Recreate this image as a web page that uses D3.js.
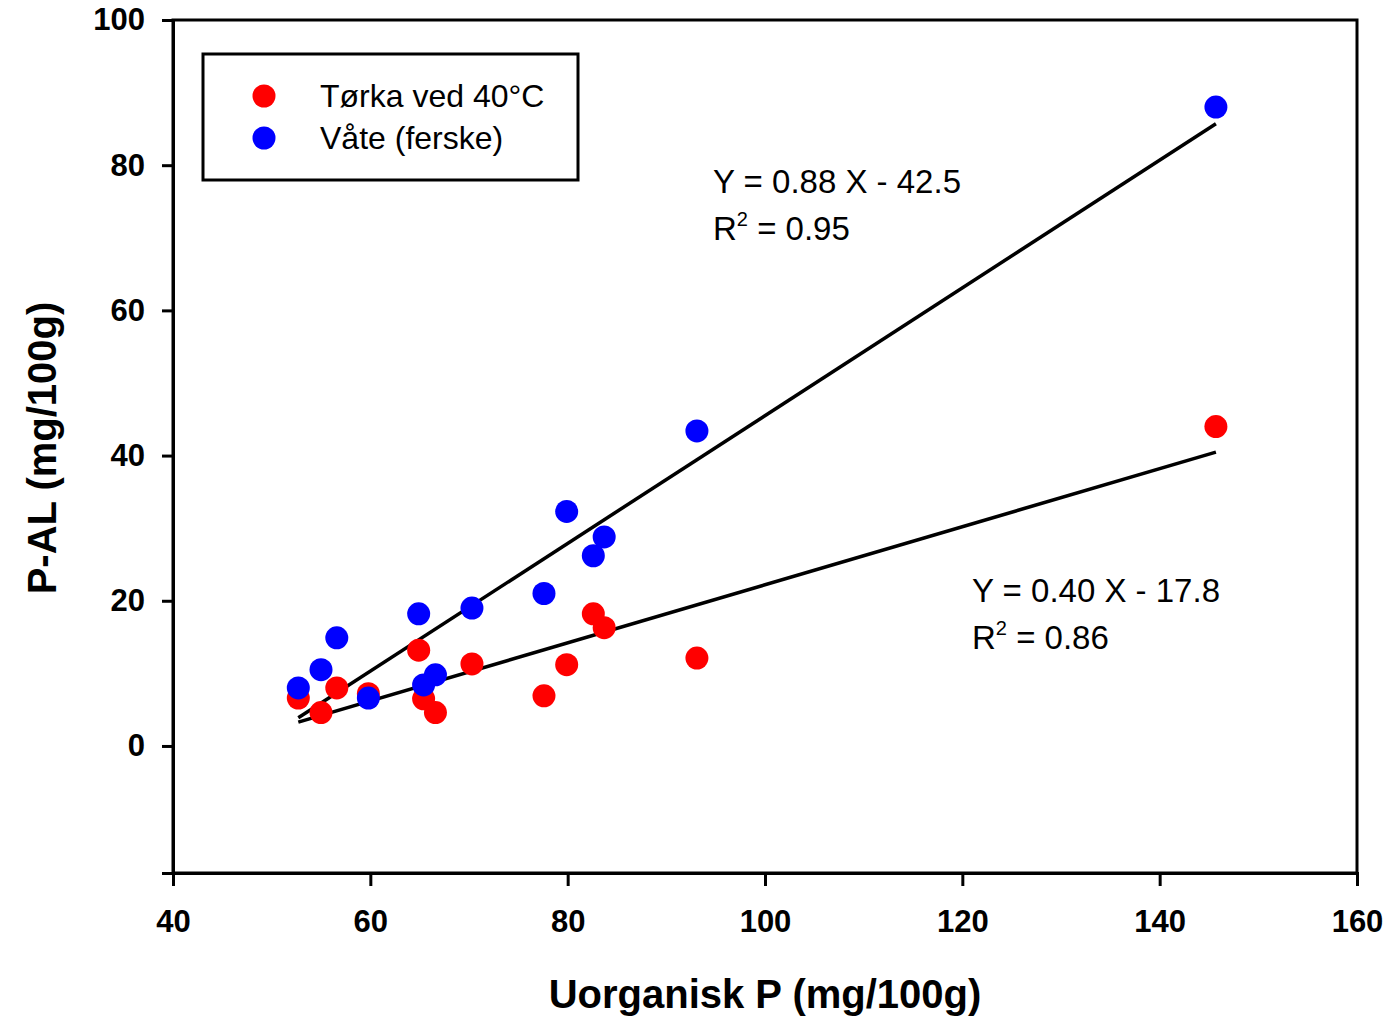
<!DOCTYPE html>
<html><head><meta charset="utf-8">
<script src="https://cdn.jsdelivr.net/npm/d3@7"></script>
<style>body{margin:0;background:#fff}svg{display:block}</style>
</head><body>
<svg id="c" width="1390" height="1017"></svg>
<script>
// Data
const xTorka = [52.7, 55.0, 56.6, 59.8, 64.9, 65.4, 66.6, 70.3, 77.6, 79.9, 82.6, 83.7, 93.1, 145.7];
const yTorka = [6.6, 4.6, 8.0, 7.2, 13.2, 6.5, 4.6, 11.3, 6.9, 11.2, 18.2, 16.3, 12.1, 44.0];
const xVate  = [52.7, 55.0, 56.6, 59.8, 64.9, 65.4, 66.6, 70.3, 77.6, 79.9, 82.6, 83.7, 93.1, 145.7];
const yVate  = [8.0, 10.5, 14.9, 6.6, 18.2, 8.4, 9.8, 19.0, 21.0, 32.3, 26.2, 28.8, 43.4, 88.0];
const seriesNames = ["Tørka ved 40°C", "Våte (ferske)"];
const fitSlope = [0.40, 0.88];
const fitIntercept = [-17.8, -42.5];
const fitR2 = ["0.86", "0.95"];
const fitEqText = ["Y = 0.40 X - 17.8", "Y = 0.88 X - 42.5"];
const xTicks = [40, 60, 80, 100, 120, 140, 160];
const yTicks = [0, 20, 40, 60, 80, 100];

const colors = ["#ff0000", "#0000ff"];
const svg = d3.select("#c");
const L = 173, T = 20, R = 1357, B = 873;
const x = d3.scaleLinear().domain([40, 160]).range([L, R]);
const y = d3.scaleLinear().domain([-17.5, 100]).range([B, T]);
const font = "'Liberation Sans', Arial, sans-serif";

// frame
svg.append("rect").attr("x", L).attr("y", T).attr("width", R - L).attr("height", B - T)
  .attr("fill", "none").attr("stroke", "#000").attr("stroke-width", 3);

const xAxis = svg.append("g").attr("transform", `translate(0,${B})`)
  .call(d3.axisBottom(x).tickValues(xTicks).tickSize(13).tickPadding(24).tickFormat(d3.format("d")));
const yAxis = svg.append("g").attr("transform", `translate(${L},0)`)
  .call(d3.axisLeft(y).tickValues(yTicks).tickSize(11).tickPadding(17).tickFormat(d3.format("d")));
[xAxis, yAxis].forEach(g => {
  g.select(".domain").attr("stroke-width", 3);
  g.selectAll(".tick line").attr("stroke-width", 3);
  g.selectAll("text").attr("font-family", font).attr("font-weight", "bold")
    .attr("font-size", 31).attr("fill", "#000");
});

// regression lines
const series = [
  {xs: xTorka, ys: yTorka},
  {xs: xVate, ys: yVate}
];
series.forEach((s, i) => {
  const x0 = d3.min(s.xs), x1 = d3.max(s.xs);
  const pts = [x0, x1].map(v => [v, fitSlope[i] * v + fitIntercept[i]]);
  svg.append("path").attr("d", d3.line().x(d => x(d[0])).y(d => y(d[1]))(pts))
    .attr("stroke", "#000").attr("stroke-width", 3.5).attr("fill", "none");
});

// points: red first, then blue on top
series.forEach((s, i) => {
  svg.append("g").selectAll("circle").data(s.xs.map((v, k) => [v, s.ys[k]])).join("circle")
    .attr("cx", d => x(d[0])).attr("cy", d => y(d[1])).attr("r", 11.5).attr("fill", colors[i]);
});

// legend
const lg = svg.append("g");
lg.append("rect").attr("x", 203).attr("y", 54).attr("width", 375).attr("height", 126)
  .attr("fill", "#fff").attr("stroke", "#000").attr("stroke-width", 3);
seriesNames.forEach((n, i) => {
  const cy = 96 + i * 42;
  lg.append("circle").attr("cx", 264).attr("cy", cy).attr("r", 11.5).attr("fill", colors[i]);
  lg.append("text").attr("x", 320).attr("y", cy + 11).attr("font-family", font)
    .attr("font-size", 32).text(n);
});

// annotations
const ann = [{x: 972, y: 602}, {x: 713, y: 193}];
ann.forEach((a, i) => {
  svg.append("text").attr("x", a.x).attr("y", a.y).attr("font-family", font).attr("font-size", 33)
    .text(fitEqText[i]);
  const t = svg.append("text").attr("x", a.x).attr("y", a.y + 47).attr("font-family", font).attr("font-size", 33);
  t.append("tspan").text("R");
  t.append("tspan").attr("font-size", 20).attr("dy", -14).text("2");
  t.append("tspan").attr("dy", 14).text(" = " + fitR2[i]);
});

// axis titles
svg.append("text").attr("x", (L + R) / 2).attr("y", 1008).attr("text-anchor", "middle")
  .attr("font-family", font).attr("font-weight", "bold").attr("font-size", 40).text("Uorganisk P (mg/100g)");
svg.append("text").attr("transform", `translate(56,448) rotate(-90)`).attr("text-anchor", "middle")
  .attr("font-family", font).attr("font-weight", "bold").attr("font-size", 40).text("P-AL (mg/100g)");
</script>
</body></html>
